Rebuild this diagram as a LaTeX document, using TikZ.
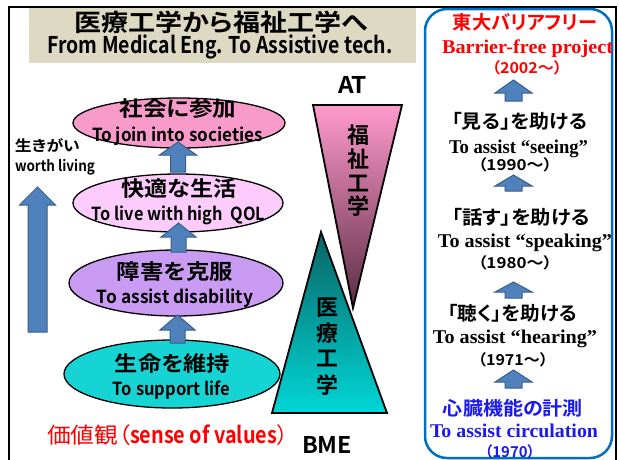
\documentclass[tikz,border=0pt]{standalone}
\usepackage{fontspec}
\usepackage{graphicx}
\setmainfont{Liberation Serif}
\newfontfamily\jpb{Noto Sans CJK JP Bold}[RawFeature=+palt]
\newfontfamily\jpr{Noto Sans CJK JP}[RawFeature=+palt]
\usetikzlibrary{shapes.geometric}
\newcommand\fw[2]{\resizebox{#1pt}{\height}{#2}}
\newcommand\fs[1]{\fontsize{#1}{#1}\selectfont}
\definecolor{tanbg}{HTML}{DDD9C3}
\definecolor{boxblue}{HTML}{0070C0}
\definecolor{arrfill}{HTML}{4F81BD}
\definecolor{arrline}{HTML}{385D8A}
\definecolor{pinkA}{HTML}{F89BCB}
\definecolor{pinkB}{HTML}{FDCCFD}
\definecolor{lav}{HTML}{C99BF3}
\definecolor{cyanE}{HTML}{17D4D4}
\definecolor{txtred}{HTML}{FF0000}
\definecolor{txtblue}{HTML}{1A1AF0}
\definecolor{atTop}{HTML}{FF9ACD}
\definecolor{atMid}{HTML}{CF7EA7}
\definecolor{atBot}{HTML}{5A2C42}
\definecolor{bmTop}{HTML}{0A6464}
\definecolor{bmMid}{HTML}{04A8A8}
\definecolor{bmBot}{HTML}{00D6D6}
\tikzset{
  txt/.style={inner sep=0pt, outer sep=0pt},
  ell/.style={ellipse, draw=black, line width=1.3pt, inner sep=0pt},
  tri/.style={draw=black, line width=1.8pt, line join=miter},
  blockarrow/.style={fill=arrfill, draw=arrline, line width=1pt, line join=miter},
}
\newcommand\uparr[6]{%
  \filldraw[blockarrow] (#1-#6,#4) -- (#1-#6,#3) -- (#1-#5,#3) -- (#1,#2) -- (#1+#5,#3) -- (#1+#6,#3) -- (#1+#6,#4) -- cycle;}
\begin{document}
\begin{tikzpicture}[x=1pt,y=-1pt]
\useasboundingbox (0,0) rectangle (619,459);
\fill[white] (0,0) rectangle (619,459);
% title background and frame
\fill[tanbg] (29,8) rectangle (416,63);
\draw[line width=2pt] (9,470) -- (9,7) -- (616,7) -- (616,470);
% right rounded box
\draw[boxblue, line width=2.5pt, rounded corners=22pt] (425,9) rectangle (612,458);
% title
\node[txt] (t1) at (221,22) {\fs{24}\jpb\fw{293}{医療工学から福祉工学へ}};
\node[txt, anchor=base] (t2) at (220,53) {\fs{23}\jpb\fw{345}{From Medical Eng. To Assistive tech.}};
% triangles
\draw[tri, top color=atTop, middle color=atMid, bottom color=atBot] (313,105) -- (402,105) -- (353,308) -- cycle;
\draw[tri, top color=bmTop, middle color=bmMid, bottom color=bmBot] (321,232) -- (387,413) -- (272,413) -- cycle;
\node[txt, anchor=base] (at) at (352.5,93) {\fs{23}\jpb\fw{29}{AT}};
\node[txt, anchor=base] (bme) at (327,453) {\fs{23}\jpb\fw{50}{BME}};
\foreach \c/\y [count=\i] in {福/135,祉/159.5,工/183.5,学/206}
  \node[txt] (at\i) at (358,\y) {\fs{22}\jpb \c};
\foreach \c/\y [count=\i] in {医/308,療/333,工/358.5,学/385}
  \node[txt] (bm\i) at (327.5,\y) {\fs{22}\jpb \c};
% ellipses
\node[ell, fill=pinkA, minimum width=212pt, minimum height=50pt] (e1) at (179,123) {};
\node[ell, fill=pinkB, minimum width=210pt, minimum height=58pt] (e2) at (178,203) {};
\node[ell, fill=lav, minimum width=214pt, minimum height=66pt] (e3) at (176,283) {};
\node[ell, fill=cyanE, minimum width=216pt, minimum height=68pt] (e4) at (172,374) {};
% arrows
\uparr{178}{142}{155}{172}{18.5}{7.5}
\uparr{178.5}{223}{237}{252}{17.5}{7.5}
\uparr{177.5}{315}{330}{343}{17.5}{7.5}
\uparr{37.5}{187}{205}{332}{18}{9.5}
\uparr{513.5}{80}{93}{101}{18.5}{8.5}
\uparr{513.5}{175}{186}{191}{18.5}{8.5}
\uparr{513.5}{282}{292}{298}{18.5}{8.5}
\uparr{513.5}{370}{382}{388}{18.5}{8.5}
% ellipse texts
\node[txt] (e1a) at (178,109) {\fs{21}\jpb\fw{117}{社会に参加}};
\node[txt, anchor=base] (e1b) at (177.5,141) {\fs{18}\jpb\fw{171}{To join into societies}};
\node[txt] (e2a) at (179,189) {\fs{21}\jpb\fw{115}{快適な生活}};
\node[txt, anchor=base] (e2b) at (178.5,220) {\fs{18}\jpb\fw{173}{To live with high\ \ QOL}};
\node[txt] (e3a) at (175,272) {\fs{21}\jpb\fw{116}{障害を克服}};
\node[txt, anchor=base] (e3b) at (175,303) {\fs{18}\jpb\fw{156}{To assist disability}};
\node[txt] (e4a) at (172.5,364) {\fs{21}\jpb\fw{115}{生命を維持}};
\node[txt, anchor=base] (e4b) at (171.5,395) {\fs{18}\jpb\fw{117}{To support life}};
% left labels
\node[txt, anchor=west] (ik) at (15,145) {\fs{15}\jpb\fw{65}{生きがい}};
\node[txt, anchor=base west] (wl) at (15,171) {\fs{15}\jpb\fw{80}{worth living}};
\node[txt, anchor=base west, txtred] (v1) at (47,443) {\fs{22}\jpr\fw{83}{価値観（}};
\node[txt, anchor=base west, txtred] (v2) at (v1.base east) {\fs{23}\jpb\fw{147}{sense of values}};
\node[txt, anchor=base west, txtred] (v3) at (v2.base east) {\fs{22}\jpr ）};
% right column
\node[txt, txtred] (r1) at (525,22) {\fs{19}\jpb\fw{144}{東大バリアフリー}};
\node[txt, txtred, anchor=base] (r2) at (527.5,53) {\fs{19.5}\bfseries\fw{171}{Barrier-free project}};
\node[txt, txtred] (r3) at (527,68) {\fs{15}\jpb\fw{70}{（2002～）}};
\node[txt] (r4) at (519.5,121) {\fs{19}\jpb\fw{135}{「見る」を助ける}};
\node[txt, anchor=base] (r5) at (518.5,153) {\fs{19.5}\bfseries\fw{139}{To assist “seeing”}};
\node[txt] (r6) at (515,165) {\fs{15}\jpb\fw{74}{（1990～）}};
\node[txt] (r7) at (521,217) {\fs{19}\jpb\fw{137}{「話す」を助ける}};
\node[txt, anchor=base] (r8) at (525,247) {\fs{19.5}\bfseries\fw{174}{To assist “speaking”}};
\node[txt] (r9) at (515,263) {\fs{15}\jpb\fw{74}{（1980～）}};
\node[txt] (r10) at (512.5,313) {\fs{19}\jpb\fw{129}{「聴く」を助ける}};
\node[txt, anchor=base] (r11) at (515,343) {\fs{19.5}\bfseries\fw{164}{To assist “hearing”}};
\node[txt] (r12) at (513,360) {\fs{15}\jpb\fw{70}{（1971～）}};
\node[txt, txtblue] (r13) at (513,408.5) {\fs{19}\jpb\fw{140}{心臓機能の計測}};
\node[txt, txtblue, anchor=base] (r14) at (514,437) {\fs{19.5}\bfseries\fw{168}{To assist circulation}};
\node[txt, txtblue] (r15) at (510,451.5) {\fs{15}\jpb\fw{50}{（1970）}};
\end{tikzpicture}
\end{document}
